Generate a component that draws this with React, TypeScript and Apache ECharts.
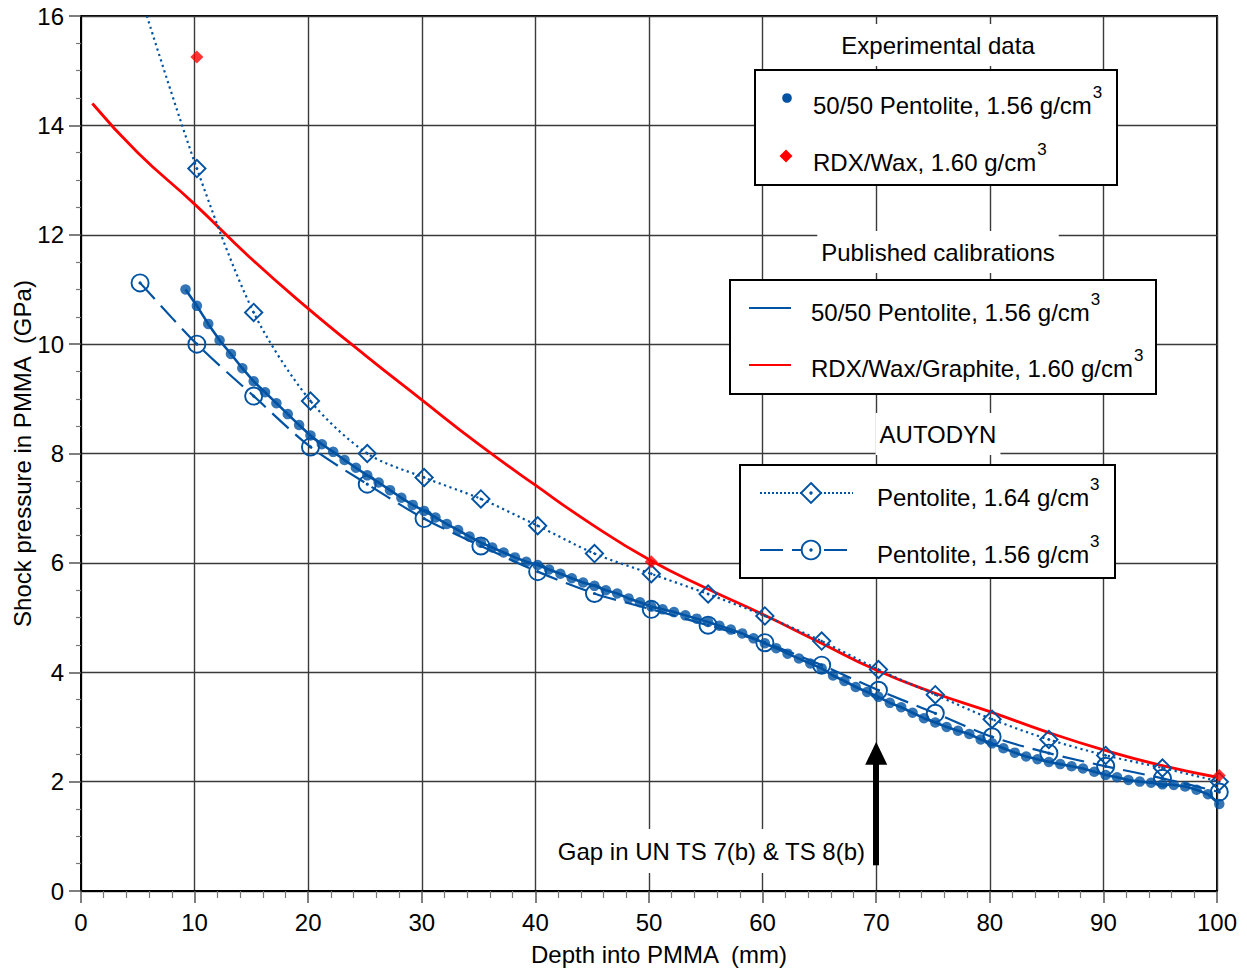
import React, { useEffect, useRef } from 'react';
import * as echarts from 'echarts';

// ---- Data ----
// Experimental data: 50/50 Pentolite, 1.56 g/cm3 (depth mm, pressure GPa)
const pentoliteExp: number[][] = [
  [9.2, 11.0], [10.2, 10.7], [11.2, 10.37], [12.2, 10.07], [13.2, 9.82], [14.2, 9.56], [15.2, 9.32],
  [16.2, 9.12], [17.2, 8.92], [18.2, 8.72], [19.2, 8.52], [20.2, 8.33], [21.2, 8.17], [22.2, 8.03],
  [23.2, 7.88], [24.2, 7.74], [25.2, 7.6], [26.2, 7.47], [27.2, 7.33], [28.2, 7.19], [29.2, 7.06],
  [30.2, 6.95], [31.2, 6.83], [32.2, 6.71], [33.2, 6.6], [34.2, 6.48], [35.2, 6.37], [36.2, 6.28],
  [37.2, 6.19], [38.2, 6.1], [39.2, 6.02], [40.2, 5.96], [41.2, 5.88], [42.2, 5.8], [43.2, 5.72],
  [44.2, 5.64], [45.2, 5.58], [46.2, 5.5], [47.2, 5.44], [48.2, 5.35], [49.2, 5.28], [50.2, 5.2],
  [51.2, 5.15], [52.2, 5.1], [53.2, 5.04], [54.2, 4.98], [55.2, 4.92], [56.2, 4.85], [57.2, 4.78],
  [58.2, 4.71], [59.2, 4.62], [60.2, 4.53], [61.2, 4.44], [62.2, 4.34], [63.2, 4.25], [64.2, 4.16],
  [65.2, 4.07], [66.2, 3.94], [67.2, 3.84], [68.2, 3.73], [69.2, 3.64], [70.2, 3.55], [71.2, 3.44],
  [72.2, 3.36], [73.2, 3.26], [74.2, 3.16], [75.2, 3.08], [76.2, 3.0], [77.2, 2.93], [78.2, 2.87],
  [79.2, 2.77], [80.2, 2.7], [81.2, 2.61], [82.2, 2.53], [83.2, 2.46], [84.2, 2.41], [85.2, 2.36],
  [86.2, 2.32], [87.2, 2.28], [88.2, 2.24], [89.2, 2.18], [90.2, 2.12], [91.2, 2.08], [92.2, 2.03],
  [93.2, 2.0], [94.2, 1.98], [95.2, 1.95], [96.2, 1.94], [97.2, 1.91], [98.2, 1.85], [99.2, 1.77],
  [100.2, 1.59],
];

// Experimental data: RDX/Wax, 1.60 g/cm3
const rdxWaxExp: number[][] = [
  [10.2, 15.25], [50.2, 6.02], [100.2, 2.11],
];

// Published calibration: RDX/Wax/Graphite, 1.60 g/cm3
const rdxCalib: number[][] = [
  [1, 14.4], [5, 13.5], [10, 12.56], [15, 11.56], [20, 10.65], [25, 9.8], [30, 8.98], [35, 8.17],
  [40, 7.42], [45, 6.7], [50, 6.06], [55, 5.54], [60, 5.06], [65, 4.55], [70, 4.04], [75, 3.63],
  [80, 3.28], [85, 2.91], [90, 2.58], [95, 2.3], [100, 2.08],
];

// AUTODYN: Pentolite, 1.64 g/cm3 (first point = where the curve leaves the top of the plot)
const autodyn164: number[][] = [
  [5.8, 16.0], [10.2, 13.21], [15.2, 10.58], [20.2, 8.96], [25.2, 8.0], [30.2, 7.56], [35.2, 7.17],
  [40.2, 6.68], [45.2, 6.17], [50.2, 5.8], [55.2, 5.43], [60.2, 5.03], [65.2, 4.57], [70.2, 4.05],
  [75.2, 3.59], [80.2, 3.14], [85.2, 2.77], [90.2, 2.48], [95.2, 2.25], [100.2, 2.0],
];

// AUTODYN: Pentolite, 1.56 g/cm3
const autodyn156: number[][] = [
  [5.2, 11.12], [10.2, 10.0], [15.2, 9.05], [20.2, 8.12], [25.2, 7.44], [30.2, 6.81], [35.2, 6.31],
  [40.2, 5.84], [45.2, 5.44], [50.2, 5.15], [55.2, 4.86], [60.2, 4.54], [65.2, 4.13], [70.2, 3.67],
  [75.2, 3.25], [80.2, 2.82], [85.2, 2.52], [90.2, 2.28], [95.2, 2.06], [100.2, 1.81],
];

// Annotation arrow (x = 70 mm)
const arrowDepth = 70;
const arrowFrom = 0.47;
const arrowTo = 2.52;

const xTicks = { min: 0, max: 100, interval: 10 };
const yTicks = { min: 0, max: 16, interval: 2 };

const BLUE = '#0052a3';
const RED = '#ff0000';
const FONT = '"Liberation Sans", Arial, Helvetica, sans-serif';

const diamondSym =
  'path://M0,-10L10,0L0,10L-10,0Z M0,-7.3L-7.3,0L0,7.3L7.3,0Z M0,-1.7L1.7,0L0,1.7L-1.7,0Z';
const circleSym =
  'path://M10,0A10,10 0 1 1 -10,0A10,10 0 1 1 10,0Z M8.0,0A8.0,8.0 0 1 0 -8.0,0A8.0,8.0 0 1 0 8.0,0Z M1.7,0A1.7,1.7 0 1 1 -1.7,0A1.7,1.7 0 1 1 1.7,0Z';

function measure(text: string, size: number): number {
  const c = document.createElement('canvas').getContext('2d');
  if (!c) return text.length * size * 0.5;
  c.font = `${size}px ${FONT}`;
  return c.measureText(text).width;
}

export default function App() {
  const ref = useRef<HTMLDivElement>(null);

  useEffect(() => {
    if (!ref.current) return;
    const chart = echarts.init(ref.current, undefined, { renderer: 'svg' });

    const LF = 24; // legend font
    const SF = 17; // superscript font
    const txt = (x: number, y: number, text: string, size: number, align = 'left', extra: any = {}) => ({
      type: 'text',
      x,
      y,
      z: 20,
      style: {
        text,
        fill: '#000',
        font: `${size}px ${FONT}`,
        textAlign: align,
        textVerticalAlign: 'middle',
        ...extra,
      },
    });
    const entryText = (x: number, y: number, text: string) => {
      const w = measure(text, LF);
      return [txt(x, y, text, LF), txt(x + w + 1, y - 13, '3', SF)];
    };
    const box = (x: number, y: number, w: number, h: number) => ({
      type: 'rect',
      z: 15,
      shape: { x, y, width: w, height: h },
      style: { fill: '#fff', stroke: '#000', lineWidth: 2 },
    });
    const title = (x: number, y: number, text: string) =>
      txt(x, y, text, LF, 'center', { backgroundColor: '#fff', padding: [9, 4, 9, 4] });

    const graphics: any[] = [
      // Experimental data
      title(938, 45, 'Experimental data'),
      box(755, 70, 362, 115),
      { type: 'circle', z: 20, shape: { cx: 787, cy: 98, r: 4.8 }, style: { fill: BLUE } },
      ...entryText(813, 105, '50/50 Pentolite, 1.56 g/cm'),
      {
        type: 'polygon', z: 20,
        shape: { points: [[786, 149.5], [792.5, 156], [786, 162.5], [779.5, 156]] },
        style: { fill: RED },
      },
      ...entryText(813, 162, 'RDX/Wax, 1.60 g/cm'),
      // Published calibrations
      title(938, 252, 'Published calibrations'),
      box(730, 280, 426, 114),
      { type: 'line', z: 20, shape: { x1: 749, y1: 308, x2: 791, y2: 308 }, style: { stroke: BLUE, lineWidth: 2 } },
      ...entryText(811, 312, '50/50 Pentolite, 1.56 g/cm'),
      { type: 'line', z: 20, shape: { x1: 749, y1: 365, x2: 791, y2: 365 }, style: { stroke: RED, lineWidth: 2 } },
      ...entryText(811, 368, 'RDX/Wax/Graphite, 1.60 g/cm'),
      // AUTODYN
      title(938, 434, 'AUTODYN'),
      box(740, 465, 375, 113),
      {
        type: 'line', z: 20, shape: { x1: 760, y1: 493, x2: 853, y2: 493 },
        style: { stroke: BLUE, lineWidth: 2, lineDash: [2, 2] },
      },
      {
        type: 'polygon', z: 21,
        shape: { points: [[811, 483], [821, 493], [811, 503], [801, 493]] },
        style: { fill: '#fff', stroke: BLUE, lineWidth: 1.9 },
      },
      { type: 'circle', z: 22, shape: { cx: 811, cy: 493, r: 1.7 }, style: { fill: BLUE } },
      ...entryText(877, 497, 'Pentolite, 1.64 g/cm'),
      {
        type: 'line', z: 20, shape: { x1: 760, y1: 550, x2: 850, y2: 550 },
        style: { stroke: BLUE, lineWidth: 2, lineDash: [23, 9] },
      },
      { type: 'circle', z: 21, shape: { cx: 811, cy: 550, r: 9.3 }, style: { fill: '#fff', stroke: BLUE, lineWidth: 1.9 } },
      { type: 'circle', z: 22, shape: { cx: 811, cy: 550, r: 1.7 }, style: { fill: BLUE } },
      ...entryText(877, 554, 'Pentolite, 1.56 g/cm'),
      // annotation
      txt(868, 851, 'Gap in UN TS 7(b) & TS 8(b)', 24, 'right', { backgroundColor: '#fff', padding: [6, 3, 14, 3] }),
    ];

    const axisLabel = { color: '#000', fontSize: 24, fontFamily: FONT };

    chart.setOption({
      animation: false,
      backgroundColor: '#fff',
      grid: {
        left: 81, right: 30, top: 16, bottom: 81,
        show: true, borderColor: '#000', borderWidth: 2, containLabel: false,
        outerBoundsMode: 'none',
      },
      xAxis: {
        type: 'value',
        ...xTicks,
        name: 'Depth into PMMA  (mm)',
        nameLocation: 'middle',
        nameGap: 51,
        nameMoveOverlap: false,
        nameTextStyle: { color: '#000', fontSize: 24, fontFamily: FONT, padding: [0, 0, 0, 20] },
        axisLine: { show: true, onZero: false, lineStyle: { color: '#000', width: 2 } },
        axisTick: { show: true, length: 12, lineStyle: { color: '#555', width: 1.5 } },
        minorTick: { show: true, splitNumber: 5, length: 7, lineStyle: { color: '#777', width: 1.2 } },
        splitLine: { show: true, lineStyle: { color: '#3a3a3a', width: 1.4 } },
        axisLabel: { ...axisLabel, margin: 19 },
      },
      yAxis: {
        type: 'value',
        ...yTicks,
        name: 'Shock pressure in PMMA  (GPa)',
        nameLocation: 'middle',
        nameGap: 47,
        nameMoveOverlap: false,
        nameTextStyle: { color: '#000', fontSize: 24, fontFamily: FONT },
        axisLine: { show: true, onZero: false, lineStyle: { color: '#000', width: 2 } },
        axisTick: { show: true, length: 12, lineStyle: { color: '#555', width: 1.5 } },
        minorTick: { show: true, splitNumber: 4, length: 5, lineStyle: { color: '#777', width: 1.2 } },
        splitLine: { show: true, lineStyle: { color: '#3a3a3a', width: 1.4 } },
        axisLabel: { ...axisLabel, margin: 17 },
      },
      series: [
        {
          name: 'Published 50/50 Pentolite, 1.56 g/cm3',
          type: 'line',
          data: pentoliteExp,
          showSymbol: false,
          clip: false,
          z: 3,
          lineStyle: { color: BLUE, width: 2.6 },
        },
        {
          name: 'RDX/Wax/Graphite, 1.60 g/cm3',
          type: 'line',
          data: rdxCalib,
          smooth: 0.5,
          showSymbol: false,
          z: 3,
          lineStyle: { color: RED, width: 2.8 },
        },
        {
          name: 'AUTODYN Pentolite, 1.64 g/cm3',
          type: 'line',
          data: autodyn164.map((p, i) => (i === 0 ? { value: p, symbol: 'none' } : p)),
          smooth: 0.3,
          clip: false,
          symbol: diamondSym,
          symbolSize: 20,
          showAllSymbol: true,
          z: 4,
          itemStyle: { color: BLUE },
          lineStyle: { color: BLUE, width: 2.2, type: [2.2, 3.5] },
        },
        {
          name: 'AUTODYN Pentolite, 1.56 g/cm3',
          type: 'line',
          data: autodyn156,
          smooth: 0.3,
          clip: false,
          symbol: circleSym,
          symbolSize: 19,
          showAllSymbol: true,
          z: 4,
          itemStyle: { color: BLUE },
          lineStyle: { color: BLUE, width: 2.2, type: [22, 9] },
        },
        {
          name: 'Experimental 50/50 Pentolite, 1.56 g/cm3',
          type: 'scatter',
          data: pentoliteExp,
          symbol: 'circle',
          symbolSize: 10.5,
          clip: false,
          z: 5,
          itemStyle: { color: BLUE },
          markLine: {
            silent: true,
            symbol: ['none', 'triangle'],
            symbolSize: [22, 23],
            label: { show: false },
            lineStyle: { color: '#000', width: 6, type: 'solid' },
            data: [[{ coord: [arrowDepth, arrowFrom] }, { coord: [arrowDepth, arrowTo] }]],
          },
        },
        {
          name: 'Experimental RDX/Wax, 1.60 g/cm3',
          type: 'scatter',
          data: rdxWaxExp,
          symbol: 'diamond',
          symbolSize: 13,
          clip: false,
          z: 6,
          itemStyle: { color: RED },
        },
      ],
      graphic: { elements: graphics },
    });

    return () => chart.dispose();
  }, []);

  return (
    <div
      ref={ref}
      style={{ position: 'absolute', left: 0, top: 0, width: 1247, height: 972, background: '#fff' }}
    />
  );
}
